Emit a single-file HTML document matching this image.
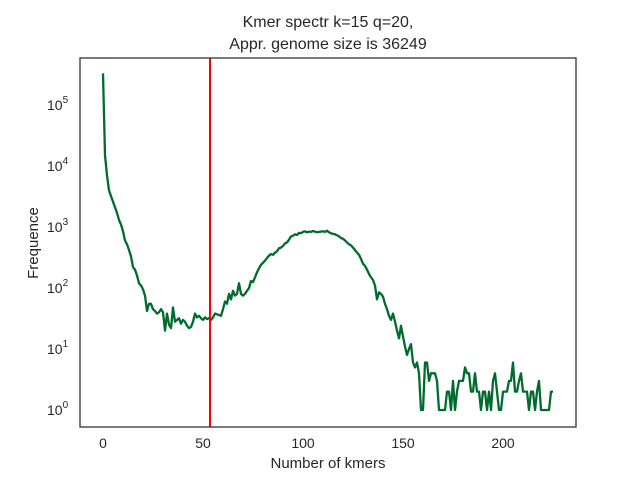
<!DOCTYPE html>
<html><head><meta charset="utf-8"><style>
body{margin:0;background:#fff}
svg text{font-family:"Liberation Sans","DejaVu Sans",sans-serif;fill:#262626}
</style></head><body>
<svg id="chart" width="640" height="480" xmlns="http://www.w3.org/2000/svg">
<rect width="640" height="480" fill="#fff"/>
<text x="328" y="27" text-anchor="middle" font-size="16">Kmer spectr k=15 q=20,</text>
<text x="328" y="49" text-anchor="middle" font-size="16">Appr. genome size is 36249</text>
<g id="xticks"></g>
<g id="yticks"></g>
<path id="series" fill="none" stroke="#006b2c" stroke-width="2.3" stroke-linejoin="round"/>
<line id="cutoff" y1="58" y2="427" stroke="#ff0000" stroke-width="2"/>
<rect x="80" y="58" width="496" height="369" fill="none" stroke="#333" stroke-width="1.3"/>
<text x="328" y="468" text-anchor="middle" font-size="15">Number of kmers</text>
<text transform="translate(38,243) rotate(-90)" text-anchor="middle" font-size="15">Frequence</text>
</svg>
<script>
const freq = [330000,15000,7000,4000,3200,2600,2100,1700,1300,1100,850,600,520,420,330,220,200,160,120,110,
95,75,42,55,55,45,42,38,40,45,40,20,38,25,22,48,28,30,32,26,30,28,24,22,23,28,38,33,35,32,
30,33,31,32,30,33,38,37,36,35,45,60,55,80,65,90,75,80,120,80,75,80,90,100,130,125,150,180,210,240,
260,280,310,340,360,350,380,400,450,460,490,540,560,620,700,720,760,740,800,790,830,850,820,840,830,860,840,820,830,840,
850,830,870,820,790,770,760,730,700,660,640,600,560,520,500,460,420,380,350,300,250,230,200,170,150,135,110,65,85,80,
72,55,45,35,30,38,28,20,15,24,16,11,8,10,12,6,5,6,4,1,1,6,6,3,4,4,4,3,1,1,
1,1,2,2,1,3,1,2,3,3,3,5,4,4,2,2,4,2,2,1,2,2,1,2,1,3,4,2,1,1,
2,2,2,3,3,6,2,2,3,4,2,2,2,1,2,2,1,2,3,1,1,1,1,1,2,2];
const xTickValues = [0,50,100,150,200];
const yTickExponents = [0,1,2,3,4,5];
const cutoffValue = 53.5;
const xs = v => 103 + 2.0*v;
const ys = c => 410 - 61*Math.log10(c);
const NS = "http://www.w3.org/2000/svg";
let d = "";
freq.forEach((c,i)=>{ d += (i?"L":"M")+xs(i).toFixed(1)+","+ys(c).toFixed(1); });
document.getElementById('series').setAttribute('d', d);
const cl = document.getElementById('cutoff');
cl.setAttribute('x1', xs(cutoffValue)); cl.setAttribute('x2', xs(cutoffValue));
const gx = document.getElementById('xticks');
xTickValues.forEach(v=>{
  const t = document.createElementNS(NS,'text');
  
  
  t.setAttribute('x', xs(v)); t.setAttribute('y', 448);
  t.setAttribute('text-anchor','middle'); t.setAttribute('font-size','14');
  t.textContent = v; gx.appendChild(t);
});
const gy = document.getElementById('yticks');
yTickExponents.forEach(e=>{
  const t = document.createElementNS(NS,'text');
  
  
  t.setAttribute('x', 47); t.setAttribute('y', ys(Math.pow(10,e))+5);
  t.setAttribute('font-size','14');
  t.textContent = '10';
  const s = document.createElementNS(NS,'tspan');
  s.setAttribute('dy','-7'); s.setAttribute('font-size','10');
  s.textContent = e; t.appendChild(s);
  gy.appendChild(t);
});
</script>
</body></html>
